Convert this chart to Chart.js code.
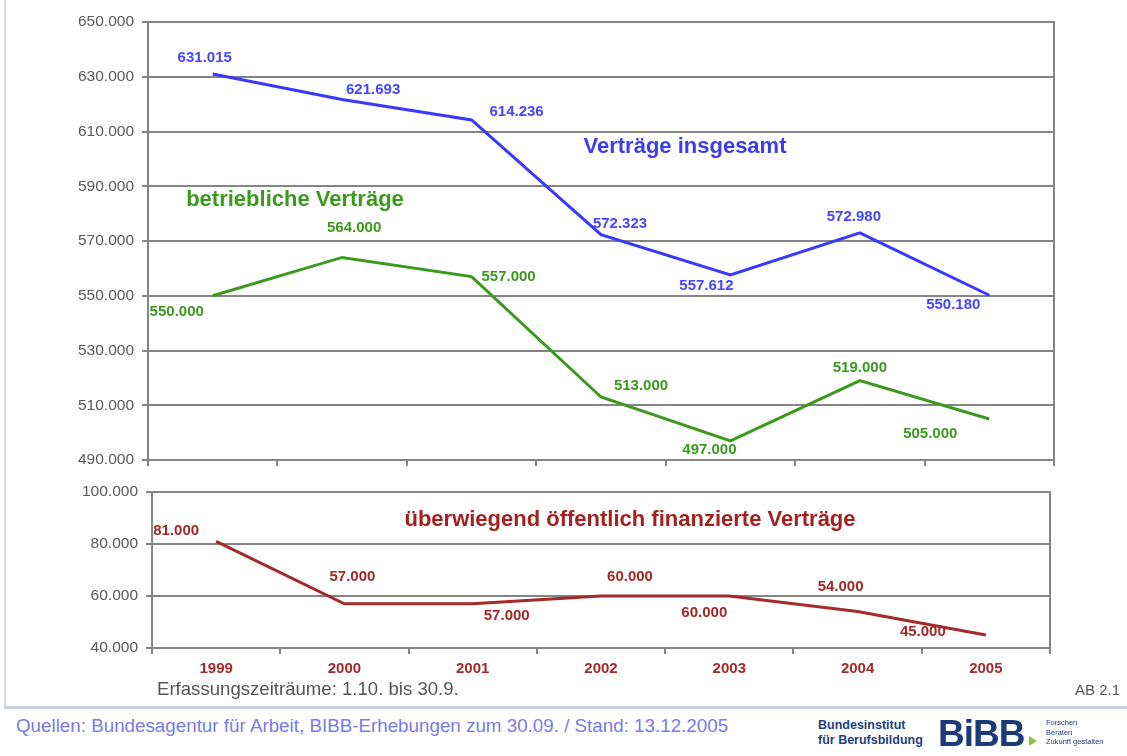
<!DOCTYPE html>
<html lang="de">
<head>
<meta charset="utf-8">
<script src="https://cdn.jsdelivr.net/npm/chart.js"></script>
<style>
  body { margin: 0; background: #fff; font-family: "Liberation Sans", Arial, sans-serif; }
  #wrap { position: relative; width: 1127px; height: 756px; overflow: hidden; }
  canvas { position: absolute; left: 0; }
  #c1 { top: 0; }
  #c2 { top: 470px; }
  .txt { position: absolute; white-space: nowrap; }
  #leftline { position: absolute; left: 4px; top: 0; width: 2px; height: 708px; background: #d4dbe8; }
  #sep { position: absolute; left: 4px; top: 706px; width: 1123px; height: 3px; background: #c9d1df; }
</style>
</head>
<body>
<div id="wrap">
  <div id="leftline"></div>
  <canvas id="c1" width="1127" height="480"></canvas>
  <canvas id="c2" width="1127" height="230"></canvas>
  <div class="txt" style="left:157px; top:678px; font-size:18.6px; color:#555;">Erfassungszeiträume: 1.10. bis 30.9.</div>
  <div class="txt" style="left:1075px; top:681px; font-size:15px; color:#555;">AB 2.1</div>
  <div id="sep"></div>
  <div class="txt" style="left:16px; top:715px; font-size:18.8px; color:#7a7ae8;">Quellen: Bundesagentur für Arbeit, BIBB-Erhebungen zum 30.09. / Stand: 13.12.2005</div>
  <div class="txt" style="left:818px; top:718px; font-size:12.5px; line-height:15px; font-weight:bold; color:#1e3f80;">Bundesinstitut<br>für Berufsbildung</div>
  <div class="txt" style="left:938px; top:714px; font-size:37px; line-height:40px; font-weight:bold; color:#1b3a7a; letter-spacing:-1px;">BiBB</div>
  <div class="txt" style="left:1029px; top:736px; width:0; height:0; border-left:8px solid #8cc63f; border-top:5px solid transparent; border-bottom:5px solid transparent;"></div>
  <div class="txt" style="left:1046px; top:718px; font-size:7.5px; line-height:9.5px; color:#1e3f80;">Forschen<br>Beraten<br>Zukunft gestalten</div>
</div>
<script>
const jahre = ['1999', '2000', '2001', '2002', '2003', '2004', '2005'];
const insgesamt = [631015, 621693, 614236, 572323, 557612, 572980, 550180];
const betrieblich = [550000, 564000, 557000, 513000, 497000, 519000, 505000];
const oeffentlich = [81000, 57000, 57000, 60000, 60000, 54000, 45000];

// label offsets (px) relative to the point
const offBlau = [[-8, -16], [31, -10], [45, -8], [19, -11], [-24, 11], [-6, -16], [-36, 10]];
const offGruen = [[-36, 16], [12, -30], [37, 0], [40, -11], [-21, 9], [0, -13], [-59, 15]];
const offRot = [[-40, -11], [8, -27], [34, 12], [29, -19], [-25, 17], [-17, -25], [-63, -3]];

const BLAU = '#3838ff';
const GRUEN = '#3a9a1e';
const ROT = '#a52a2a';
const FONT = '"Liberation Sans", Arial, sans-serif';

const fmt = v => String(v).replace(/\B(?=(\d{3})+(?!\d))/g, '.');

const labelPlugin = {
  id: 'labels',
  afterDatasetsDraw(chart, args, opts) {
    const ctx = chart.ctx;
    const a = chart.chartArea;
    ctx.save();
    // plot frame
    ctx.strokeStyle = '#858585';
    ctx.lineWidth = 2;
    ctx.strokeRect(a.left, a.top, a.right - a.left, a.bottom - a.top);
    ctx.textAlign = 'center';
    ctx.textBaseline = 'middle';
    chart.data.datasets.forEach((ds, i) => {
      const meta = chart.getDatasetMeta(i);
      ctx.fillStyle = ds.labelColor;
      ctx.font = 'bold 15px ' + FONT;
      meta.data.forEach((pt, j) => {
        const o = ds.offsets[j];
        ctx.fillText(fmt(ds.data[j]), pt.x + o[0], pt.y + o[1]);
      });
    });
    (opts.titles || []).forEach(t => {
      ctx.fillStyle = t.color;
      ctx.font = 'bold 22px ' + FONT;
      ctx.fillText(t.text, t.x, t.y);
    });
    ctx.restore();
  }
};

function yAxis(min, max, width) {
  return {
    min: min, max: max,
    afterFit: s => { s.width = width; },
    border: { color: '#858585', width: 2 },
    grid: { color: '#858585', lineWidth: 2, tickLength: 6 },
    ticks: { stepSize: 20000, color: '#5a5a5a', font: { family: FONT, size: 15.5 }, padding: 8, callback: v => fmt(v) }
  };
}

new Chart(document.getElementById('c1'), {
  type: 'line',
  data: {
    labels: jahre,
    datasets: [
      { data: insgesamt, borderColor: BLAU, borderWidth: 3, pointRadius: 0, tension: 0, labelColor: '#4646ff', offsets: offBlau },
      { data: betrieblich, borderColor: GRUEN, borderWidth: 3, pointRadius: 0, tension: 0, labelColor: '#3a9a1e', offsets: offGruen }
    ]
  },
  options: {
    responsive: false,
    animation: false,
    layout: { padding: { left: 0, right: 73, top: 22, bottom: 0 } },
    plugins: {
      legend: { display: false },
      tooltip: { enabled: false },
      labels: {
        titles: [
          { text: 'Verträge insgesamt', color: '#3c3cf0', x: 685, y: 147 },
          { text: 'betriebliche Verträge', color: '#3a9a1e', x: 295, y: 200 }
        ]
      }
    },
    scales: {
      x: {
        offset: true,
        afterFit: s => { s.height = 20; },
        border: { color: '#858585', width: 2 },
        grid: { offset: true, drawOnChartArea: false, color: '#858585', lineWidth: 2, tickLength: 6 },
        ticks: { display: false }
      },
      y: yAxis(490000, 650000, 148)
    }
  },
  plugins: [labelPlugin]
});

new Chart(document.getElementById('c2'), {
  type: 'line',
  data: {
    labels: jahre,
    datasets: [
      { data: oeffentlich, borderColor: ROT, borderWidth: 3, pointRadius: 0, tension: 0, labelColor: '#a32828', offsets: offRot }
    ]
  },
  options: {
    responsive: false,
    animation: false,
    layout: { padding: { left: 0, right: 77, top: 22, bottom: 0 } },
    plugins: {
      legend: { display: false },
      tooltip: { enabled: false },
      labels: {
        titles: [
          { text: 'überwiegend öffentlich finanzierte Verträge', color: '#a52020', x: 630, y: 50 }
        ]
      }
    },
    scales: {
      x: {
        offset: true,
        afterFit: s => { s.height = 52; },
        border: { color: '#858585', width: 2 },
        grid: { offset: true, drawOnChartArea: false, color: '#858585', lineWidth: 2, tickLength: 6 },
        ticks: { color: '#a52a2a', font: { family: FONT, size: 15, weight: 'bold' }, padding: 6, maxRotation: 0 }
      },
      y: yAxis(40000, 100000, 152)
    }
  },
  plugins: [labelPlugin]
});
</script>
</body>
</html>
